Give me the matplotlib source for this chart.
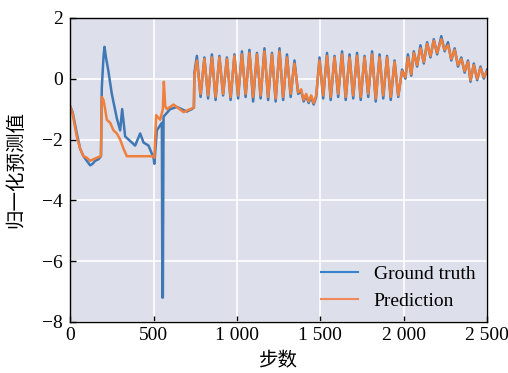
import matplotlib
matplotlib.use("Agg")
import matplotlib.pyplot as plt

plt.rcParams['font.family'] = ['Liberation Serif', 'Noto Sans CJK SC']
plt.rcParams['axes.unicode_minus'] = True

# ---- data ----
gt_early_steps = [0, 15, 40, 60, 80, 100, 120, 135, 150, 170, 185, 190, 200, 206, 215, 228, 250, 280,
                  300, 312, 330, 360, 390, 420, 440, 470, 500, 505, 520, 550, 553, 556, 560, 600, 640,
                  700, 730, 742]
gt_early_vals = [-0.9, -1.1, -1.8, -2.3, -2.55, -2.7, -2.85, -2.8, -2.7, -2.65, -2.55, -0.3, 0.7, 1.05,
                 0.7, 0.3, -0.5, -1.3, -1.7, -1.0, -1.9, -2.05, -2.2, -1.8, -2.1, -2.2, -2.6, -2.8,
                 -1.7, -1.45, -7.2, -7.2, -1.25, -1.0, -0.93, -1.08, -1.0, -0.95]

pred_early_steps = [0, 15, 40, 60, 80, 100, 120, 140, 160, 185, 190, 200, 210, 220, 240, 260, 280, 300,
                    320, 340, 400, 500, 505, 516, 540, 556, 562, 570, 580, 620, 680, 720, 742]
pred_early_vals = [-0.9, -1.15, -1.9, -2.3, -2.55, -2.6, -2.7, -2.65, -2.6, -2.55, -0.6, -0.7, -1.0,
                   -1.35, -1.45, -1.7, -1.8, -2.0, -2.3, -2.55, -2.55, -2.55, -2.6, -1.2, -1.35, -1.0,
                   -0.1, -0.9, -1.0, -0.85, -1.1, -1.0, -0.95]

osc_steps = [745, 760, 782, 805, 827, 850, 872, 895, 917, 940, 962, 985, 1007, 1030, 1052, 1075, 1097,
             1120, 1142, 1165, 1187, 1210, 1232, 1255, 1277, 1300, 1322, 1345, 1367,
             1385, 1400, 1415, 1430, 1445, 1460, 1475,
             1495, 1517, 1540, 1562, 1585, 1607, 1630, 1652, 1675, 1697, 1720, 1742, 1765, 1787,
             1810, 1832, 1855, 1877, 1900, 1922, 1945, 1967,
             1990, 2010, 2025, 2045, 2060, 2080, 2100, 2120, 2140, 2160, 2180, 2200, 2225, 2245,
             2265, 2285, 2305, 2325, 2345, 2365, 2385, 2400, 2420, 2440, 2460, 2480, 2500]
gt_osc_vals = [0.2, 0.75, -0.6, 0.7, -0.65, 0.8, -0.7, 0.75, -0.55, 0.7, -0.7, 0.8, -0.65, 0.9, -0.6,
               0.95, -0.75, 0.85, -0.65, 1.0, -0.7, 0.85, -0.75, 1.0, -0.7, 0.8, -0.6, 0.6, -0.5,
               -0.4, -0.75, -0.55, -0.8, -0.6, -0.85, -0.6,
               0.7, -0.65, 0.85, -0.7, 0.75, -0.6, 0.9, -0.7, 0.8, -0.65, 0.85, -0.7, 0.75, -0.6,
               0.9, -0.75, 0.8, -0.65, 0.75, -0.7, 0.6, -0.6,
               0.3, 0.0, 0.8, 0.1, 0.9, 0.4, 1.1, 0.5, 1.2, 0.7, 1.3, 0.8, 1.4, 0.9,
               1.2, 0.6, 1.0, 0.4, 0.7, 0.2, 0.6, -0.1, 0.5, -0.05, 0.4, 0.0, 0.3]
pred_osc_vals = [0.1, 0.6, -0.5, 0.65, -0.55, 0.7, -0.6, 0.7, -0.5, 0.65, -0.6, 0.75, -0.55, 0.8, -0.5,
                 0.85, -0.6, 0.8, -0.55, 0.9, -0.6, 0.8, -0.65, 0.9, -0.6, 0.7, -0.5, 0.5, -0.45,
                 -0.35, -0.7, -0.5, -0.75, -0.55, -0.8, -0.55,
                 0.6, -0.55, 0.75, -0.6, 0.7, -0.5, 0.8, -0.6, 0.7, -0.55, 0.75, -0.6, 0.7, -0.5,
                 0.8, -0.65, 0.7, -0.55, 0.7, -0.6, 0.55, -0.55,
                 0.25, 0.05, 0.7, 0.15, 0.85, 0.45, 1.0, 0.55, 1.15, 0.75, 1.25, 0.85, 1.3, 0.95,
                 1.1, 0.65, 0.95, 0.45, 0.65, 0.25, 0.55, -0.05, 0.45, 0.0, 0.35, 0.05, 0.25]

x_ticks = [0, 500, 1000, 1500, 2000, 2500]
x_tick_labels = ['0', '500', '1 000', '1 500', '2 000', '2 500']
y_ticks = [-8, -6, -4, -2, 0, 2]

gt_steps = gt_early_steps + osc_steps
gt_vals = gt_early_vals + gt_osc_vals
pred_steps = pred_early_steps + osc_steps
pred_vals = pred_early_vals + pred_osc_vals

# ---- figure ----
fig = plt.figure(figsize=(5.08, 3.73), dpi=100)
ax = fig.add_axes([0.138, 0.137, 0.821, 0.815])
ax.set_facecolor('#dde0ea')
ax.grid(True, color='white', lw=1.2)
ax.set_axisbelow(True)

ax.plot(gt_steps, gt_vals, color='#3f78b5', lw=1.8, label='Ground truth')
ax.plot(pred_steps, pred_vals, color='#ef7f3b', lw=1.8, label='Prediction')

ax.set_xlim(0, 2500)
ax.set_ylim(-8, 2)
ax.set_xticks(x_ticks)
ax.set_xticklabels(x_tick_labels)
ax.set_yticks(y_ticks)
ax.tick_params(direction='in', length=4, labelsize=14, width=1)
ax.tick_params(axis='x', pad=4)
ax.tick_params(axis='y', pad=5)
for s in ax.spines.values():
    s.set_color('black')
    s.set_linewidth(1.0)

ax.set_xlabel('步数', fontsize=14, labelpad=6)
ax.set_ylabel('归一化预测值', fontsize=14, labelpad=12)

leg = ax.legend(loc='lower right', frameon=False, fontsize=14, handlelength=1.9,
                borderaxespad=0.2, labelspacing=0.5)
leg.legend_handles[0].set_color('#3a80d0')
leg.legend_handles[1].set_color('#f0885a')
leg.legend_handles[0].set_linewidth(1.5)
leg.legend_handles[1].set_linewidth(1.5)

fig.savefig('out.png', dpi=100)
